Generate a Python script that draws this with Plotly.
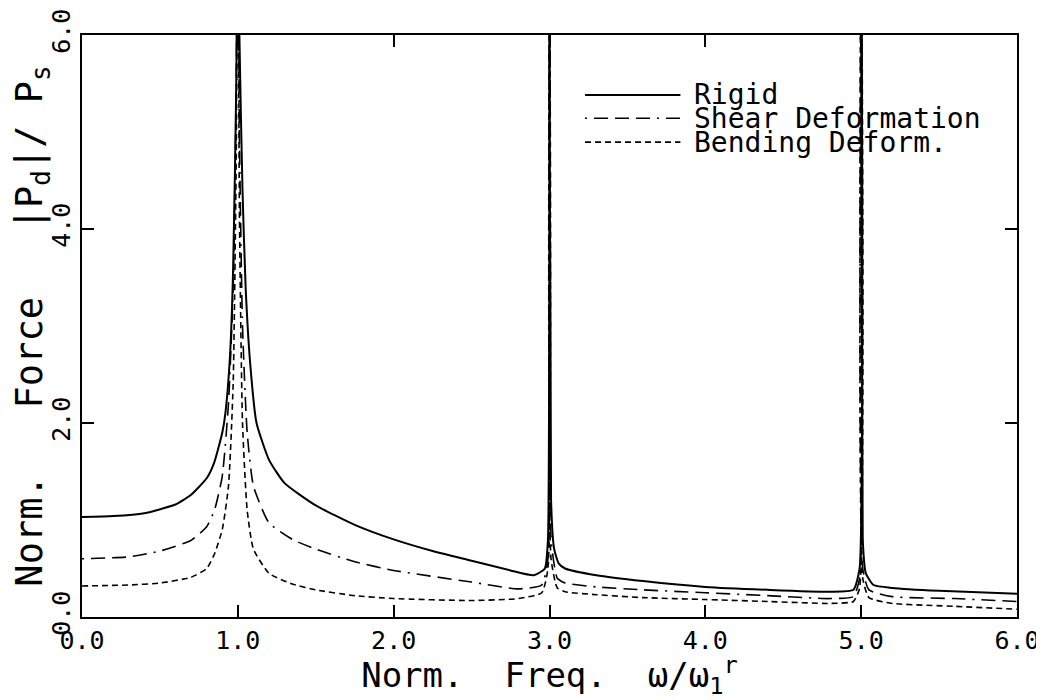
import plotly.graph_objects as go

# Normalized frequency samples and force amplitudes
rigid_x = [0.0, 0.2, 0.4, 0.6, 0.7, 0.8, 0.85, 0.9, 0.92, 0.95, 0.97, 0.99, 1.0, 1.01, 1.03, 1.05, 1.08, 1.12,
           1.2, 1.3, 1.5, 1.75, 2.0, 2.25, 2.5, 2.75, 2.9, 2.97, 2.99, 3.0, 3.01, 3.03, 3.06, 3.1, 3.3, 3.6,
           4.0, 4.4, 4.8, 4.95, 4.99, 5.0, 5.01, 5.03, 5.08, 5.2, 5.5, 6.0]
rigid_y = [1.03, 1.04, 1.07, 1.16, 1.26, 1.43, 1.6, 1.9, 2.1, 2.7, 3.6, 5.5, 8.0, 6.0, 4.4, 3.4, 2.6, 2.0,
           1.62, 1.38, 1.15, 0.95, 0.8, 0.68, 0.58, 0.48, 0.43, 0.5, 0.8, 8.0, 1.2, 0.7, 0.55, 0.5, 0.43, 0.37,
           0.31, 0.28, 0.26, 0.28, 0.5, 8.0, 0.8, 0.45, 0.33, 0.3, 0.27, 0.24]

shear_x = [0.0, 0.3, 0.5, 0.7, 0.8, 0.85, 0.9, 0.94, 0.97, 0.99, 1.0, 1.01, 1.03, 1.06, 1.1, 1.2, 1.35, 1.5,
           1.75, 2.0, 2.5, 2.8, 2.95, 2.99, 3.0, 3.01, 3.05, 3.1, 3.3, 3.6, 4.0, 4.4, 4.8, 4.95, 4.99, 5.0,
           5.01, 5.05, 5.2, 5.6, 6.0]
shear_y = [0.6, 0.62, 0.68, 0.79, 0.93, 1.1, 1.45, 2.2, 3.4, 5.5, 8.0, 5.0, 3.0, 1.9, 1.35, 0.97, 0.8, 0.7,
           0.57, 0.48, 0.36, 0.29, 0.33, 0.6, 8.0, 0.8, 0.4, 0.35, 0.31, 0.28, 0.25, 0.22, 0.19, 0.21, 0.4, 8.0,
           0.5, 0.28, 0.21, 0.19, 0.16]

bend_x = [0.0, 0.3, 0.5, 0.7, 0.8, 0.85, 0.9, 0.94, 0.97, 0.99, 1.0, 1.01, 1.03, 1.06, 1.1, 1.2, 1.35, 1.5,
          1.75, 2.0, 2.5, 2.8, 2.95, 2.99, 3.0, 3.01, 3.05, 3.1, 3.3, 3.6, 4.0, 4.4, 4.8, 4.95, 4.99, 5.0,
          5.01, 5.05, 5.2, 5.6, 6.0]
bend_y = [0.32, 0.33, 0.35, 0.41, 0.5, 0.65, 0.9, 1.35, 2.4, 4.8, 8.0, 4.2, 2.0, 1.1, 0.7, 0.45, 0.34, 0.28,
          0.22, 0.19, 0.17, 0.19, 0.25, 0.5, 8.0, 0.6, 0.3, 0.26, 0.23, 0.2, 0.18, 0.16, 0.14, 0.16, 0.3, 8.0,
          0.4, 0.2, 0.14, 0.11, 0.08]

legend_names = ["Rigid", "Shear Deformation", "Bending Deform."]
x_ticks = [0, 1, 2, 3, 4, 5, 6]
y_ticks = [0, 2, 4, 6]

FONT = "DejaVu Sans Mono"
styles = [
    dict(color="black", width=2, dash="solid"),
    dict(color="black", width=1.6, dash="2px,7px,14px,7px,14px,7px,14px,7px"),
    dict(color="black", width=1.6, dash="6px,4px"),
]

fig = go.Figure()
for xs, ys, name, st in zip([rigid_x, shear_x, bend_x], [rigid_y, shear_y, bend_y], legend_names, styles):
    fig.add_trace(go.Scatter(x=xs, y=ys, mode="lines", name=name, line=st, showlegend=False,
                             line_shape="spline", line_smoothing=0.5))

# custom legend (long sample lines like the reference)
leg_y = [0.897, 0.857, 0.816]
for name, st, yy in zip(legend_names, styles, leg_y):
    fig.add_shape(type="line", xref="paper", yref="paper", x0=0.538, x1=0.640, y0=yy, y1=yy,
                  line=st)
    fig.add_annotation(xref="paper", yref="paper", x=0.652, y=yy, text=name, showarrow=False,
                       xanchor="left", yanchor="middle", font=dict(family=FONT, size=28, color="black"))

axis_common = dict(showgrid=False, zeroline=False, showline=True, linecolor="black", linewidth=2,
                   mirror="ticks", ticks="inside", ticklen=12, tickwidth=2, tickcolor="black",
                   automargin=False,
                   tickfont=dict(family=FONT, size=25, color="black"))

fig.update_xaxes(range=[0, 6], tickvals=x_ticks, ticktext=[f"{v:.1f}" for v in x_ticks],
                 title=dict(text="Norm.  Freq.  ω/ω<sub>1</sub><sup>r</sup>",
                            font=dict(family=FONT, size=34, color="black"), standoff=2),
                 **axis_common)
fig.update_yaxes(range=[0, 6], tickvals=y_ticks, ticktext=[f"{v:.1f}" for v in y_ticks], tickangle=-90,
                 title=dict(text="Norm.   Force   |P<sub>d</sub>|/ P<sub>s</sub>",
                            font=dict(family=FONT, size=37, color="black"), standoff=2),
                 **axis_common)

# the page body has an 8px margin: shrink the figure so the plot area lands where the reference has it
fig.update_layout(width=1036, height=692, plot_bgcolor="white", paper_bgcolor="white",
                  margin=dict(l=74, r=27, t=27, b=83), showlegend=False)

fig.write_html("out.html")
